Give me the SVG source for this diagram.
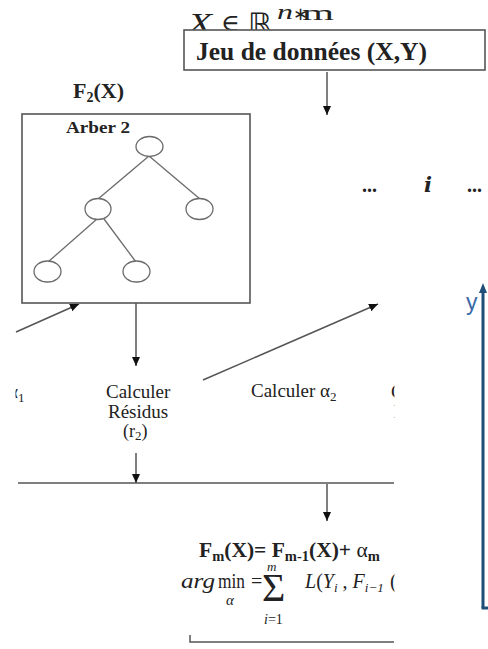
<svg xmlns="http://www.w3.org/2000/svg" width="488" height="649" viewBox="0 0 488 649">
<style>
.ln{stroke:#555;stroke-width:1.5;fill:none}
.arr{marker-end:url(#ah)}
.box{fill:#fff;stroke:#555;stroke-width:1.6}
.nd{fill:#fff;stroke:#6b6b6b;stroke-width:1.3}
.ed{stroke:#6b6b6b;stroke-width:1.3}
.ser{font-family:"Liberation Serif","Times New Roman",serif;fill:#222}
.b{font-weight:bold}
.it{font-style:italic}
.math{font-family:"DejaVu Serif","Liberation Serif",serif;fill:#222}
</style>
<defs>
<marker id="ah" markerUnits="userSpaceOnUse" markerWidth="10" markerHeight="10" refX="9" refY="5" orient="auto">
<path d="M0,1 L9,5 L0,9 z" fill="#111"/>
</marker>
<clipPath id="cutR"><rect x="0" y="280" width="394.5" height="369"/></clipPath>
<clipPath id="cutL"><rect x="15.5" y="370" width="30" height="40"/></clipPath>
</defs>

<g id="dataset">
<text class="ser it" x="188" y="33" font-size="30" textLength="24" lengthAdjust="spacingAndGlyphs">X</text>
<text class="math" x="221" y="31" font-size="24" textLength="19" lengthAdjust="spacingAndGlyphs">∈</text>
<text font-family="DejaVu Sans, sans-serif" x="248" y="33" font-size="28" textLength="24" lengthAdjust="spacingAndGlyphs" fill="#222">ℝ</text>
<text class="ser it" x="277" y="19" font-size="20" textLength="16" lengthAdjust="spacingAndGlyphs">n</text>
<text class="ser" x="293" y="20" font-size="18">∗</text>
<text class="ser" x="302" y="20" font-size="21" textLength="32" lengthAdjust="spacingAndGlyphs">m</text>
<rect class="box" x="184" y="30" width="301" height="40"/>
<text class="ser b" x="196" y="60" font-size="25.5" fill="#111">Jeu de données (X,Y)</text>
</g>

<g id="iter-i">
<text class="ser b" x="362" y="192" font-size="20" fill="#444">...</text>
<text class="math it b" x="424" y="192" font-size="21" fill="#333">i</text>
<text class="ser b" x="467" y="192" font-size="20" fill="#444">...</text>
</g>

<g id="f2-tree">
<text class="ser b" x="73" y="98" font-size="22" fill="#111">F<tspan font-size="14" dy="4">2</tspan><tspan dy="-4">(X)</tspan></text>
<rect class="box" x="22" y="114" width="228" height="189"/>
<text class="ser b" x="66" y="133" font-size="16.5" textLength="64" lengthAdjust="spacingAndGlyphs" fill="#111">Arber 2</text>
<line class="ed" x1="149" y1="156" x2="98" y2="199"/>
<line class="ed" x1="149" y1="156" x2="200" y2="199"/>
<line class="ed" x1="97" y1="219" x2="48" y2="262"/>
<line class="ed" x1="104" y1="219" x2="136" y2="262"/>
<ellipse class="nd" cx="149.5" cy="146.5" rx="13.5" ry="10"/>
<ellipse class="nd" cx="98" cy="209" rx="13" ry="10.5"/>
<ellipse class="nd" cx="199.5" cy="209" rx="13.5" ry="10.5"/>
<ellipse class="nd" cx="47.5" cy="271.5" rx="13.5" ry="10.5"/>
<ellipse class="nd" cx="136.5" cy="271.5" rx="13.5" ry="10.5"/>
</g>

<g id="calc-alpha1" clip-path="url(#cutL)">
<text class="ser" x="8" y="398" font-size="19">α<tspan font-size="13" dy="4">1</tspan></text>
</g>

<g id="calc-residus">
<text class="ser" x="106" y="398" font-size="19">Calculer</text>
<text class="ser" x="108" y="418" font-size="19">Résidus</text>
<text class="ser" x="123" y="437" font-size="18">(r<tspan font-size="13" dy="3">2</tspan><tspan dy="-3">)</tspan></text>
</g>

<g id="calc-alpha2">
<text class="ser" x="251" y="397" font-size="19">Calculer α<tspan font-size="13" dy="4">2</tspan></text>
</g>

<g id="calc-next" clip-path="url(#cutR)">
<text class="ser" x="391" y="398" font-size="19">Calculer</text>
<text class="ser" x="393.5" y="418" font-size="19">Résidus</text>
</g>

<g id="connectors">
<line class="ln arr" x1="327" y1="72" x2="327" y2="115"/>
<line class="ln arr" x1="136" y1="303" x2="136" y2="366"/>
<line class="ln arr" x1="16" y1="332" x2="79" y2="304"/>
<line class="ln arr" x1="203" y1="380" x2="378" y2="304"/>
<line class="ln arr" x1="136" y1="453" x2="136" y2="483"/>
<line class="ln" x1="18" y1="483" x2="394" y2="483"/>
<line class="ln arr" x1="327" y1="484" x2="327" y2="521"/>
<polyline class="ln" points="190,635 190,642 394,642"/>
</g>

<g id="fm-formula" clip-path="url(#cutR)">
<text class="ser b" x="199" y="557" font-size="21.5" fill="#111">F<tspan font-size="14.5" dy="4">m</tspan><tspan dy="-4">(X)= F</tspan><tspan font-size="14.5" dy="4">m-1</tspan><tspan dy="-4">(X)+ </tspan><tspan font-weight="normal">α</tspan><tspan font-size="14.5" dy="4">m</tspan></text>
</g>

<g id="argmin" clip-path="url(#cutR)">
<text class="ser it" x="181" y="588" font-size="21" textLength="34" lengthAdjust="spacingAndGlyphs">arg</text>
<text class="ser" x="218" y="588" font-size="20" textLength="27" lengthAdjust="spacingAndGlyphs">min</text>
<text class="ser it" x="226" y="605" font-size="15">α</text>
<text class="ser" x="251" y="588" font-size="20">=</text>
<text class="ser" x="262" y="601" font-size="40">Σ</text>
<text class="ser it" x="267" y="571" font-size="13">m</text>
<text class="ser" x="264" y="624" font-size="14"><tspan font-style="italic">i</tspan>=1</text>
<text class="ser" x="305" y="588" font-size="20"><tspan font-style="italic">L</tspan>(<tspan font-style="italic">Y</tspan><tspan font-size="13" font-style="italic" dy="4">i</tspan><tspan dy="-4"> , </tspan><tspan font-style="italic">F</tspan><tspan font-size="13" font-style="italic" dy="4">i−1</tspan></text>
<text class="ser" x="390" y="588" font-size="20" fill="#8c5a4b">(</text>
</g>

<g id="y-axis">
<line x1="483" y1="291" x2="483" y2="608" stroke="#1f4e79" stroke-width="3"/>
<polygon points="483,283 479,293 487,293" fill="#1f4e79"/>
<line x1="481.5" y1="608" x2="488" y2="608" stroke="#1f4e79" stroke-width="3"/>
<text x="466" y="310" font-family="Liberation Sans, Arial, sans-serif" font-size="23" fill="#3a6aa8">y</text>
</g>
</svg>
